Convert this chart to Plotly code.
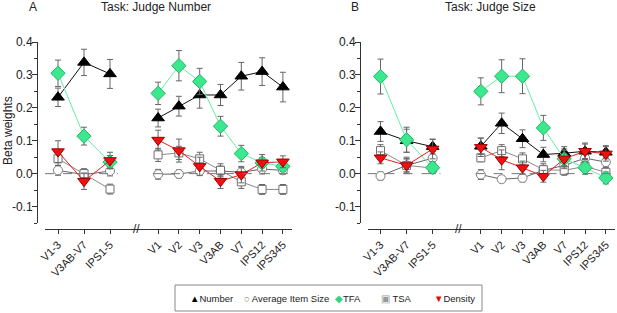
import plotly.graph_objects as go

# ---------------- data ----------------
cats_left = ["V1-3", "V3AB-V7", "IPS1-5"]
cats_right = ["V1", "V2", "V3", "V3AB", "V7", "IPS12", "IPS345"]
y_ticks = [-0.1, 0.0, 0.1, 0.2, 0.3, 0.4]
y_ticktext = ["-0.1", "0.0", "0.1", "0.2", "0.3", "0.4"]

# Panel A: Task: Judge Number
A_number = [0.232, 0.338, 0.303, 0.169, 0.205, 0.239, 0.239, 0.296, 0.310, 0.263]
A_number_err = [0.028, 0.040, 0.044, 0.027, 0.030, 0.040, 0.032, 0.042, 0.042, 0.045]
A_size = [0.010, -0.003, 0.008, -0.002, -0.001, 0.008, 0.008, 0.004, 0.014, 0.010]
A_size_err = [0.015, 0.015, 0.015, 0.015, 0.012, 0.012, 0.015, 0.015, 0.015, 0.012]
A_tfa = [0.305, 0.114, 0.035, 0.244, 0.328, 0.280, 0.144, 0.061, 0.033, 0.022]
A_tfa_err = [0.040, 0.027, 0.020, 0.034, 0.046, 0.040, 0.030, 0.025, 0.015, 0.015]
A_tsa = [0.045, 0.000, -0.047, 0.057, 0.063, 0.045, 0.010, -0.025, -0.048, -0.048]
A_tsa_err = [0.020, 0.015, 0.015, 0.020, 0.020, 0.020, 0.020, 0.020, 0.015, 0.015]
A_density = [0.067, -0.023, 0.040, 0.102, 0.070, 0.022, -0.023, -0.003, 0.033, 0.036]
A_density_err = [0.033, 0.025, 0.025, 0.030, 0.035, 0.028, 0.022, 0.025, 0.025, 0.018]

# Panel B: Task: Judge Size
B_number = [0.128, 0.100, 0.082, 0.083, 0.153, 0.106, 0.058, 0.062, 0.068, 0.065]
B_number_err = [0.030, 0.035, 0.022, 0.025, 0.031, 0.027, 0.022, 0.020, 0.022, 0.020]
B_size = [-0.007, 0.025, 0.047, -0.003, -0.017, -0.013, 0.010, 0.025, 0.047, 0.035]
B_size_err = [0.012, 0.020, 0.020, 0.015, 0.010, 0.012, 0.015, 0.015, 0.015, 0.015]
B_tfa = [0.295, 0.103, 0.018, 0.250, 0.296, 0.296, 0.139, 0.045, 0.018, -0.013]
B_tfa_err = [0.053, 0.038, 0.018, 0.041, 0.050, 0.053, 0.038, 0.030, 0.020, 0.018]
B_tsa = [0.070, 0.025, 0.017, 0.048, 0.070, 0.045, 0.012, 0.010, 0.022, 0.004]
B_tsa_err = [0.018, 0.020, 0.015, 0.012, 0.018, 0.018, 0.018, 0.015, 0.015, 0.015]
B_density = [0.048, 0.025, 0.075, 0.080, 0.042, 0.018, -0.008, 0.045, 0.068, 0.060]
B_density_err = [0.018, 0.025, 0.030, 0.028, 0.030, 0.020, 0.018, 0.025, 0.025, 0.022]

# ---------------- layout helpers ----------------
W, H = 617, 313
FONT = "Liberation Sans, Arial, sans-serif"

n_left = len(cats_left)
x_left = [float(i) for i in range(n_left)]
x_right = [3.85 + 0.8 * i for i in range(len(cats_right))]
x_all = x_left + [None] + x_right
tick_x = x_left + x_right
tick_labels = cats_left + cats_right
x_break = 3.0


def split(v):
    return list(v[:n_left]) + [None] + list(v[n_left:])


styles = {
    "size": dict(symbol="circle", size=9, color="white", line=dict(color="#808080", width=1)),
    "tsa": dict(symbol="square", size=8, color="white", line=dict(color="#707070", width=1)),
    "number": dict(symbol="triangle-up", size=11, color="black", line=dict(color="black", width=1)),
    "tfa": dict(symbol="diamond", size=11, color="#3be88e", line=dict(color="#22b766", width=1)),
    "density": dict(symbol="triangle-down", size=11, color="#ee1111", line=dict(color="#a00000", width=1)),
}
line_colors = {"size": "#666666", "tsa": "#8a8a8a", "number": "#111111",
               "tfa": "#66eea6", "density": "#e02020"}

fig = go.Figure()

panels = [
    ("x", "y", {"size": (A_size, A_size_err), "tsa": (A_tsa, A_tsa_err),
                "number": (A_number, A_number_err), "tfa": (A_tfa, A_tfa_err),
                "density": (A_density, A_density_err)}),
    ("x2", "y2", {"size": (B_size, B_size_err), "tsa": (B_tsa, B_tsa_err),
                  "number": (B_number, B_number_err), "tfa": (B_tfa, B_tfa_err),
                  "density": (B_density, B_density_err)}),
]

for xa, ya, series in panels:
    for key in ["size", "tsa", "number", "tfa", "density"]:
        vals, errs = series[key]
        fig.add_trace(go.Scatter(
            x=x_all, y=split(vals), xaxis=xa, yaxis=ya,
            mode="lines+markers", connectgaps=False, showlegend=False,
            line=dict(color=line_colors[key], width=1),
            marker=styles[key],
            error_y=dict(type="data", array=split(errs), visible=True,
                         color="#666666", thickness=1, width=3),
            cliponaxis=False,
        ))

# domains (pixel based)
xA = [45 / W, 292 / W]
xB = [367.5 / W, 615 / W]
ydom = [1 - 223 / H, 1 - 42 / H]
x_line_pos = 1 - 229 / H

axis_font = dict(family=FONT, size=11, color="#222")
common_x = dict(range=[-0.5, 9.0], tickvals=tick_x, ticktext=tick_labels, tickangle=-45,
                showline=True, linecolor="#333", linewidth=1, ticks="outside", ticklen=4,
                tickcolor="#333", showgrid=False, zeroline=False, tickfont=axis_font,
                anchor="free", position=x_line_pos, automargin=False)
common_y = dict(range=[-0.15, 0.4], tickvals=y_ticks, ticktext=y_ticktext, domain=ydom,
                showline=True, linecolor="#333", linewidth=1, ticks="outside", ticklen=5,
                tickcolor="#333", showgrid=False, zeroline=False,
                tickfont=dict(family=FONT, size=12, color="#222"), ticklabelstandoff=-3,
                minor=dict(dtick=0.05, tick0=0, ticks="outside", ticklen=3, tickcolor="#333"),
                anchor="free", automargin=False)

fig.update_layout(
    width=W, height=H, margin=dict(l=0, r=0, t=0, b=0, pad=0), autosize=False,
    paper_bgcolor="white", plot_bgcolor="white",
    font=dict(family=FONT, size=12, color="#222"),
    xaxis=dict(domain=xA, **common_x),
    xaxis2=dict(domain=xB, **common_x),
    yaxis=dict(position=37 / W, **common_y),
    yaxis2=dict(position=360 / W, **common_y),
)

shapes = []
annotations = []
for xa in ["x", "x2"]:
    # dashed zero line segments
    for x0, x1 in [(-0.5, 2.3), (3.65, 9.0)]:
        shapes.append(dict(type="line", xref=xa, yref="y", x0=x0, x1=x1, y0=0, y1=0,
                           line=dict(color="#777", width=1, dash="dash")))
    # axis break marker
    annotations.append(dict(x=x_break, y=x_line_pos, xref=xa, yref="paper", text="//",
                            showarrow=False, font=dict(family=FONT, size=12, color="#222"),
                            xanchor="center", yanchor="middle"))

# titles
annotations += [
    dict(x=33 / W, y=1 - 7 / H, xref="paper", yref="paper", text="A", showarrow=False,
         font=dict(family=FONT, size=12, color="#222"), xanchor="center", yanchor="middle"),
    dict(x=156 / W, y=1 - 7 / H, xref="paper", yref="paper", text="Task: Judge Number",
         showarrow=False, font=dict(family=FONT, size=12, color="#222"),
         xanchor="center", yanchor="middle"),
    dict(x=355 / W, y=1 - 7 / H, xref="paper", yref="paper", text="B", showarrow=False,
         font=dict(family=FONT, size=12, color="#222"), xanchor="center", yanchor="middle"),
    dict(x=490 / W, y=1 - 7 / H, xref="paper", yref="paper", text="Task: Judge Size",
         showarrow=False, font=dict(family=FONT, size=12, color="#222"),
         xanchor="center", yanchor="middle"),
    dict(x=8 / W, y=1 - 131 / H, xref="paper", yref="paper", text="Beta weights",
         textangle=-90, showarrow=False, font=dict(family=FONT, size=12, color="#222"),
         xanchor="center", yanchor="middle"),
]

# legend box
shapes.append(dict(type="rect", xref="paper", yref="paper", x0=175 / W, x1=482 / W,
                   y0=1 - 311 / H, y1=1 - 285 / H, line=dict(color="#888", width=1),
                   fillcolor="white"))
legend_items = [
    (188, '<span style="color:black">▲</span>Number'),
    (242, '<span style="color:#777">○</span> Average Item Size'),
    (333, '<span style="color:#2fd57f">◆</span>TFA'),
    (379, '<span style="color:#999">▣</span> TSA'),
    (432, '<span style="color:#e01010">▼</span>Density'),
]
for px, txt in legend_items:
    annotations.append(dict(x=px / W, y=1 - 298 / H, xref="paper", yref="paper", text=txt,
                            showarrow=False, xanchor="left", yanchor="middle",
                            font=dict(family=FONT, size=9.5, color="#222")))

fig.update_layout(shapes=shapes, annotations=annotations)
fig.write_html("out.html", config={"displayModeBar": False},
               post_script="document.body.style.margin='0px';document.body.style.padding='0px';")
